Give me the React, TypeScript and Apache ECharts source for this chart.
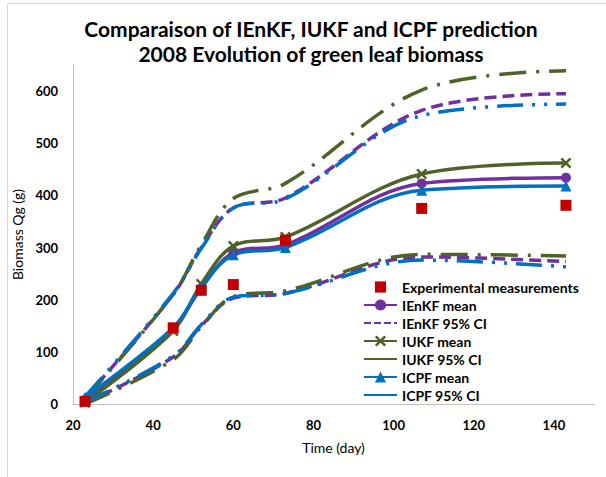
import React, { useEffect, useRef } from "react";
import * as echarts from "echarts";

const days = [23, 45, 52, 60, 73, 107, 143];
const measured = [5, 146, 218, 229, 314, 375, 381];
const ienkfMean = [8, 145, 222, 290, 305, 423, 434];
const ienkfUpper = [12, 210, 300, 376, 395, 563, 595];
const ienkfLower = [2, 90, 150, 203, 212, 282, 273];
const iukfMean = [3, 140, 230, 303, 320, 441, 462];
const iukfUpper = [10, 210, 305, 394, 423, 602, 639];
const iukfLower = [0, 85, 148, 206, 217, 287, 284];
const icpfMean = [13, 146, 224, 286, 300, 410, 418];
const icpfUpper = [14, 212, 298, 376, 393, 553, 575];
const icpfLower = [4, 92, 152, 205, 212, 276, 263];

const xTicks = [20, 40, 60, 80, 100, 120, 140];
const yTicks = [0, 100, 200, 300, 400, 500, 600];

const titleLines = [
  "Comparaison of IEnKF, IUKF and ICPF prediction",
  "2008 Evolution of green leaf biomass",
];

const PURPLE = "#7030A0";
const OLIVE = "#4F6228";
const BLUE = "#0070C0";
const RED = "#C00000";
const FONT = 'Lato, "Noto Sans", sans-serif';

const XMARK =
  "path://M0,1.6L1.6,0L5,3.4L8.4,0L10,1.6L6.6,5L10,8.4L8.4,10L5,6.6L1.6,10L0,8.4L3.4,5Z";

const pts = (ys: number[]) => days.map((d, i) => [d, ys[i]]);

export default function App() {
  const ref = useRef<HTMLDivElement>(null);
  useEffect(() => {
    if (!ref.current) return;
    const chart = echarts.init(ref.current, undefined, { renderer: "svg" });
    const smooth = 0.35;
    const meanLine = (name: string, ys: number[], color: string, symbol: string, size: number) => ({
      name,
      type: "line",
      data: pts(ys),
      smooth,
      symbol,
      symbolSize: size,
      showSymbol: true,
      lineStyle: { color, width: 3.5 },
      itemStyle: { color },
      emphasis: { disabled: true },
    });
    const ciLine = (name: string, ys: number[], color: string, dash: number[]) => ({
      name,
      type: "line",
      data: pts(ys),
      smooth,
      symbol: "none",
      lineStyle: { color, width: 3.5, type: dash, cap: "butt" },
      itemStyle: { color },
      emphasis: { disabled: true },
    });
    const purpleDash = [12, 6];
    const oliveDash = [27, 10, 3, 10];
    const blueDash = [26, 9, 3, 9, 3, 9];
    chart.setOption({
      animation: false,
      title: {
        text: titleLines.join("\n"),
        left: 311,
        top: 16,
        textAlign: "center",
        padding: 0,
        textStyle: {
          fontFamily: FONT,
          fontSize: 21,
          fontWeight: "bold",
          lineHeight: 25,
          color: "#000",
        },
      },
      graphic: [
        {
          type: "rect",
          shape: { x: 7.5, y: 3.5, width: 620, height: 490 },
          style: { fill: "none", stroke: "#D9D9D9", lineWidth: 1 },
          silent: true,
        },
      ],
      grid: { left: 73, right: 12, top: 65, bottom: 73, containLabel: false },
      legend: {
        orient: "vertical",
        left: 363,
        top: 280,
        itemWidth: 33,
        itemHeight: 14,
        itemGap: 4,
        padding: 0,
        selectedMode: false,
        textStyle: { fontFamily: FONT, fontSize: 14, fontWeight: "bold", color: "#000", lineHeight: 14 },
        data: [
          { name: "Experimental measurements" },
          { name: "IEnKF mean" },
          { name: "IEnKF 95% CI", lineStyle: { type: [7, 3] }, itemStyle: { opacity: 0 } },
          { name: "IUKF mean" },
          { name: "IUKF 95% CI", lineStyle: { type: "solid" }, itemStyle: { opacity: 0 } },
          { name: "ICPF mean" },
          { name: "ICPF 95% CI", lineStyle: { type: "solid" }, itemStyle: { opacity: 0 } },
        ],
      },
      xAxis: {
        type: "value",
        min: 20,
        max: 150,
        interval: 20,
        name: "Time (day)",
        nameLocation: "middle",
        nameGap: 36,
        nameTextStyle: { fontFamily: FONT, fontSize: 14, color: "#000" },
        axisLine: { lineStyle: { color: "#BFBFBF", width: 1 } },
        axisTick: { show: false },
        splitLine: { show: false },
        axisLabel: {
          margin: 14,
          fontFamily: FONT,
          fontSize: 13,
          fontWeight: "bold",
          color: "#000",
          formatter: (v: number) => (xTicks.includes(v) ? String(v) : ""),
        },
      },
      yAxis: {
        type: "value",
        min: 0,
        max: 650,
        interval: 100,
        name: "Biomass Qg (g)",
        nameLocation: "middle",
        nameGap: 36,
        nameTextStyle: { fontFamily: FONT, fontSize: 14, color: "#000" },
        axisLine: { show: true, lineStyle: { color: "#BFBFBF", width: 1 } },
        axisTick: { show: false },
        splitLine: { show: false },
        axisLabel: {
          margin: 15,
          fontFamily: FONT,
          fontSize: 13,
          fontWeight: "bold",
          color: "#000",
          formatter: (v: number) => (yTicks.includes(v) ? String(v) : ""),
        },
      },
      series: [
        meanLine("IEnKF mean", ienkfMean, PURPLE, "circle", 10),
        ciLine("IEnKF 95% CI", ienkfUpper, PURPLE, purpleDash),
        ciLine("IEnKF 95% CI", ienkfLower, PURPLE, purpleDash),
        meanLine("IUKF mean", iukfMean, OLIVE, XMARK, 11),
        ciLine("IUKF 95% CI", iukfUpper, OLIVE, oliveDash),
        ciLine("IUKF 95% CI", iukfLower, OLIVE, oliveDash),
        meanLine("ICPF mean", icpfMean, BLUE, "triangle", 11),
        ciLine("ICPF 95% CI", icpfUpper, BLUE, blueDash),
        ciLine("ICPF 95% CI", icpfLower, BLUE, blueDash),
        {
          name: "Experimental measurements",
          type: "line",
          data: pts(measured),
          symbol: "rect",
          symbolSize: 11,
          showSymbol: true,
          z: 5,
          lineStyle: { width: 0, opacity: 0 },
          itemStyle: { color: RED },
          emphasis: { disabled: true },
        },
      ],
    });
    return () => chart.dispose();
  }, []);
  return (
    <div
      ref={ref}
      style={{ position: "absolute", left: 0, top: 0, width: 606, height: 477 }}
    />
  );
}
